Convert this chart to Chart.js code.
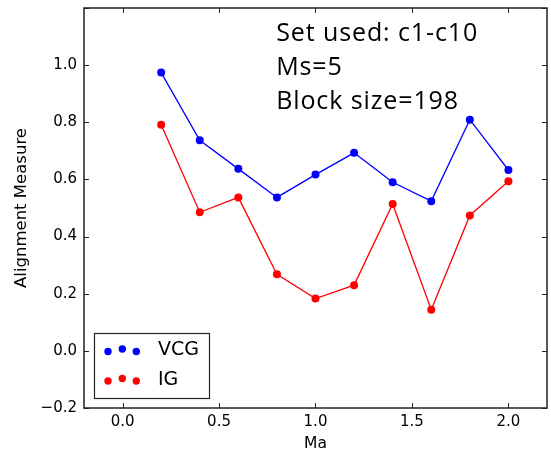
<!DOCTYPE html>
<html>
<head>
<meta charset="utf-8">
<script src="https://cdn.jsdelivr.net/npm/chart.js@4.4.0/dist/chart.umd.min.js"></script>
<style>
  html, body { margin: 0; padding: 0; background: #ffffff; overflow: hidden; }
  #wrap { width: 551px; height: 451px; }
</style>
</head>
<body>
<div id="wrap"><canvas id="c" width="551" height="451"></canvas></div>
<script>
// Ma values along the x axis
const maValues = [0.2, 0.4, 0.6, 0.8, 1.0, 1.2, 1.4, 1.6, 1.8, 2.0];
// Alignment measure for each method
const vcgValues = [0.974, 0.737, 0.637, 0.537, 0.617, 0.693, 0.590, 0.524, 0.809, 0.633];
const igValues  = [0.791, 0.485, 0.537, 0.268, 0.183, 0.230, 0.514, 0.144, 0.474, 0.594];
// Axis ticks
const xTicks = [0.0, 0.5, 1.0, 1.5, 2.0];
const yTicks = [-0.2, 0.0, 0.2, 0.4, 0.6, 0.8, 1.0];
// Text block in the upper part of the plot
const infoLines = ['Set used: c1-c10', 'Ms=5', 'Block size=198'];
const seriesNames = ['VCG', 'IG'];
const seriesColors = ['#0000ff', '#ff0000'];

const tickFont = { family: 'DejaVu Sans', size: 15, lineHeight: 1.1 };
const fmt = v => (v < 0 ? '\u2212' : '') + Math.abs(v).toFixed(1);

const toPoints = ys => maValues.map((x, i) => ({ x: x, y: ys[i] }));

// Frame, inward ticks, info text and scatter-style legend
const decorations = {
  id: 'decorations',
  afterDraw(chart) {
    const ctx = chart.ctx;
    const a = chart.chartArea;
    const xs = chart.scales.x, ys = chart.scales.y;
    ctx.save();
    ctx.strokeStyle = '#222222';
    ctx.lineWidth = 1;
    const tl = 5;
    ctx.beginPath();
    xTicks.forEach(v => {
      const px = Math.round(xs.getPixelForValue(v)) + 0.5;
      ctx.moveTo(px, a.bottom); ctx.lineTo(px, a.bottom - tl);
      ctx.moveTo(px, a.top); ctx.lineTo(px, a.top + tl);
    });
    yTicks.concat([1.2]).forEach(v => {
      const py = Math.round(ys.getPixelForValue(v)) + 0.5;
      ctx.moveTo(a.left, py); ctx.lineTo(a.left + tl, py);
      ctx.moveTo(a.right, py); ctx.lineTo(a.right - tl, py);
    });
    ctx.stroke();
    ctx.lineWidth = 1.5;
    ctx.strokeRect(a.left, a.top, a.right - a.left, a.bottom - a.top);

    // info text
    ctx.fillStyle = '#000000';
    ctx.font = '25px "Open Sans"';
    ctx.letterSpacing = '0.9px';
    ctx.textAlign = 'left';
    ctx.textBaseline = 'alphabetic';
    const tx = a.left + (a.right - a.left) * 0.415;
    infoLines.forEach((t, i) => ctx.fillText(t, tx, 41 + i * 34));
    ctx.letterSpacing = '0px';

    // legend
    const lx = a.left + 10, ly = a.bottom - 75, lw = 115, lh = 65;
    ctx.fillStyle = '#ffffff';
    ctx.fillRect(lx, ly, lw, lh);
    ctx.strokeStyle = '#222222';
    ctx.lineWidth = 1.2;
    ctx.strokeRect(lx + 0.5, ly + 0.5, lw, lh);
    const dotX = [lx + 14, lx + 28.3, lx + 42.3];
    const dotDy = [1, -1.5, 1];
    ctx.font = '19px "DejaVu Sans"';
    ctx.textBaseline = 'middle';
    seriesNames.forEach((name, r) => {
      const cy = ly + 17.5 + r * 29.5;
      ctx.fillStyle = seriesColors[r];
      dotX.forEach((dx, k) => {
        ctx.beginPath();
        ctx.arc(dx, cy + dotDy[k], 3.7, 0, Math.PI * 2);
        ctx.fill();
      });
      ctx.fillStyle = '#000000';
      ctx.fillText(name, lx + 64, cy);
    });
    ctx.restore();
  }
};

new Chart(document.getElementById('c'), {
  type: 'line',
  data: {
    datasets: [
      { label: seriesNames[0], data: toPoints(vcgValues), borderColor: seriesColors[0], backgroundColor: seriesColors[0],
        borderWidth: 1.3, pointRadius: 4, pointBorderWidth: 0, tension: 0 },
      { label: seriesNames[1], data: toPoints(igValues), borderColor: seriesColors[1], backgroundColor: seriesColors[1],
        borderWidth: 1.3, pointRadius: 4, pointBorderWidth: 0, tension: 0 }
    ]
  },
  options: {
    responsive: false,
    animation: false,
    layout: { padding: { top: 8, right: 2, left: 0, bottom: 0 } },
    plugins: { legend: { display: false }, tooltip: { enabled: false } },
    scales: {
      x: {
        type: 'linear', min: -0.2, max: 2.2,
        afterBuildTicks: s => { s.ticks = xTicks.map(v => ({ value: v })); },
        afterFit: s => { s.height = 43; s.paddingLeft = 0; s.paddingRight = 0; },
        grid: { display: false, drawTicks: false },
        border: { display: false },
        ticks: { font: tickFont, color: '#000000', padding: 6, callback: v => fmt(v), maxRotation: 0 },
        title: { display: true, text: 'Ma', font: { family: 'DejaVu Sans', size: 15.5, lineHeight: 0.9 }, color: '#000000', padding: { top: 0, bottom: 0 } }
      },
      y: {
        type: 'linear', min: -0.2, max: 1.2,
        afterBuildTicks: s => { s.ticks = yTicks.map(v => ({ value: v })); },
        afterFit: s => { s.width = 84; s.paddingTop = 0; s.paddingBottom = 0; },
        grid: { display: false, drawTicks: false },
        border: { display: false },
        ticks: { font: tickFont, color: '#000000', padding: 7, callback: v => fmt(v) },
        title: { display: true, text: 'Alignment Measure', font: { family: 'DejaVu Sans', size: 16.5, lineHeight: 1.2 }, color: '#000000', padding: { top: 12, bottom: 0 } }
      }
    }
  },
  plugins: [decorations]
});
</script>
</body>
</html>
